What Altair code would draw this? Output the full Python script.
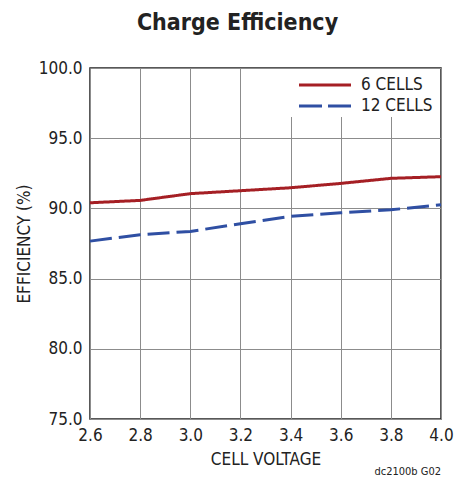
import altair as alt
import pandas as pd

# Cell voltage (V) and measured charge efficiency (%) for two stack sizes
voltage = [2.6, 2.8, 3.0, 3.2, 3.4, 3.6, 3.8, 4.0]
eff_6_cells = [90.4, 90.57, 91.05, 91.26, 91.47, 91.78, 92.14, 92.26]
eff_12_cells = [87.67, 88.13, 88.36, 88.91, 89.43, 89.69, 89.9, 90.26]
series_names = ["6 CELLS", "12 CELLS"]
series_colors = ["#a51f24", "#2f4fa3"]
series_dash = [[1, 0], [22, 7]]
x_ticks = [2.6, 2.8, 3.0, 3.2, 3.4, 3.6, 3.8, 4.0]
y_ticks = [75, 80, 85, 90, 95, 100]

FONT = "DejaVu Sans Condensed, Liberation Sans Narrow, sans-serif"
INK = "#222222"

df = pd.concat([
    pd.DataFrame({"v": voltage, "eff": eff_6_cells, "series": series_names[0]}),
    pd.DataFrame({"v": voltage, "eff": eff_12_cells, "series": series_names[1]}),
])

W, H = 351, 351

lines = alt.Chart(df).mark_line(strokeWidth=3).encode(
    x=alt.X("v:Q", scale=alt.Scale(domain=[2.6, 4.0], nice=False, zero=False),
            axis=alt.Axis(values=x_ticks, format=".1f", title="CELL VOLTAGE",
                          labelFlush=False, titlePadding=8)),
    y=alt.Y("eff:Q", scale=alt.Scale(domain=[75, 100], nice=False, zero=False),
            axis=alt.Axis(values=y_ticks, format=".1f", title="EFFICIENCY (%)",
                          labelFlush=False, titlePadding=5)),
    color=alt.Color("series:N", sort=series_names,
                    scale=alt.Scale(domain=series_names, range=series_colors),
                    legend=None),
    strokeDash=alt.StrokeDash("series:N", sort=series_names,
                              scale=alt.Scale(domain=series_names, range=series_dash),
                              legend=None),
)

# Legend panel in the top-right corner of the plot, drawn over the grid
legend_bg = alt.Chart(pd.DataFrame({"k": [0]})).mark_rect(fill="white").encode(
    x=alt.value(196), x2=alt.value(W - 1), y=alt.value(1), y2=alt.value(49)
)
legend_layers = [legend_bg]
for i, name in enumerate(series_names):
    row_y = 17 + 21 * i
    legend_layers.append(
        alt.Chart(pd.DataFrame({"series": [name]})).mark_rule(
            strokeWidth=3, color=series_colors[i],
            strokeDash=[23, 6] if i == 1 else [1, 0],
        ).encode(x=alt.value(209), x2=alt.value(261), y=alt.value(row_y))
    )
    legend_layers.append(
        alt.Chart(pd.DataFrame({"series": [name]})).mark_text(
            align="left", baseline="middle", fontSize=17, font=FONT, color=INK
        ).encode(text="series:N", x=alt.value(271), y=alt.value(row_y))
    )

note = alt.Chart(pd.DataFrame({"t": ["dc2100b G02"]})).mark_text(
    align="right", baseline="middle", fontSize=11, font=FONT, color=INK
).encode(text="t:N", x=alt.value(W), y=alt.value(H + 53))

chart = alt.layer(lines, *legend_layers, note).properties(
    width=W, height=H,
    title=alt.TitleParams("Charge Efficiency", fontSize=23, font=FONT, fontWeight="bold",
                          color=INK, anchor="middle", dx=-28, offset=24),
    autosize=alt.AutoSizeParams(type="none"),
    padding={"left": 90, "top": 68, "right": 18, "bottom": 64},
).configure_view(
    stroke=INK, strokeWidth=1.5
).configure_axis(
    grid=True, gridColor="#8c8c8c", gridWidth=1, domain=False, ticks=False,
    labelFont=FONT, labelFontSize=17, labelColor=INK, labelPadding=8,
    titleFont=FONT, titleFontSize=17, titleFontWeight="normal", titleColor=INK,
)

chart.save("out.html", embed_options={"renderer": "svg", "actions": False})
